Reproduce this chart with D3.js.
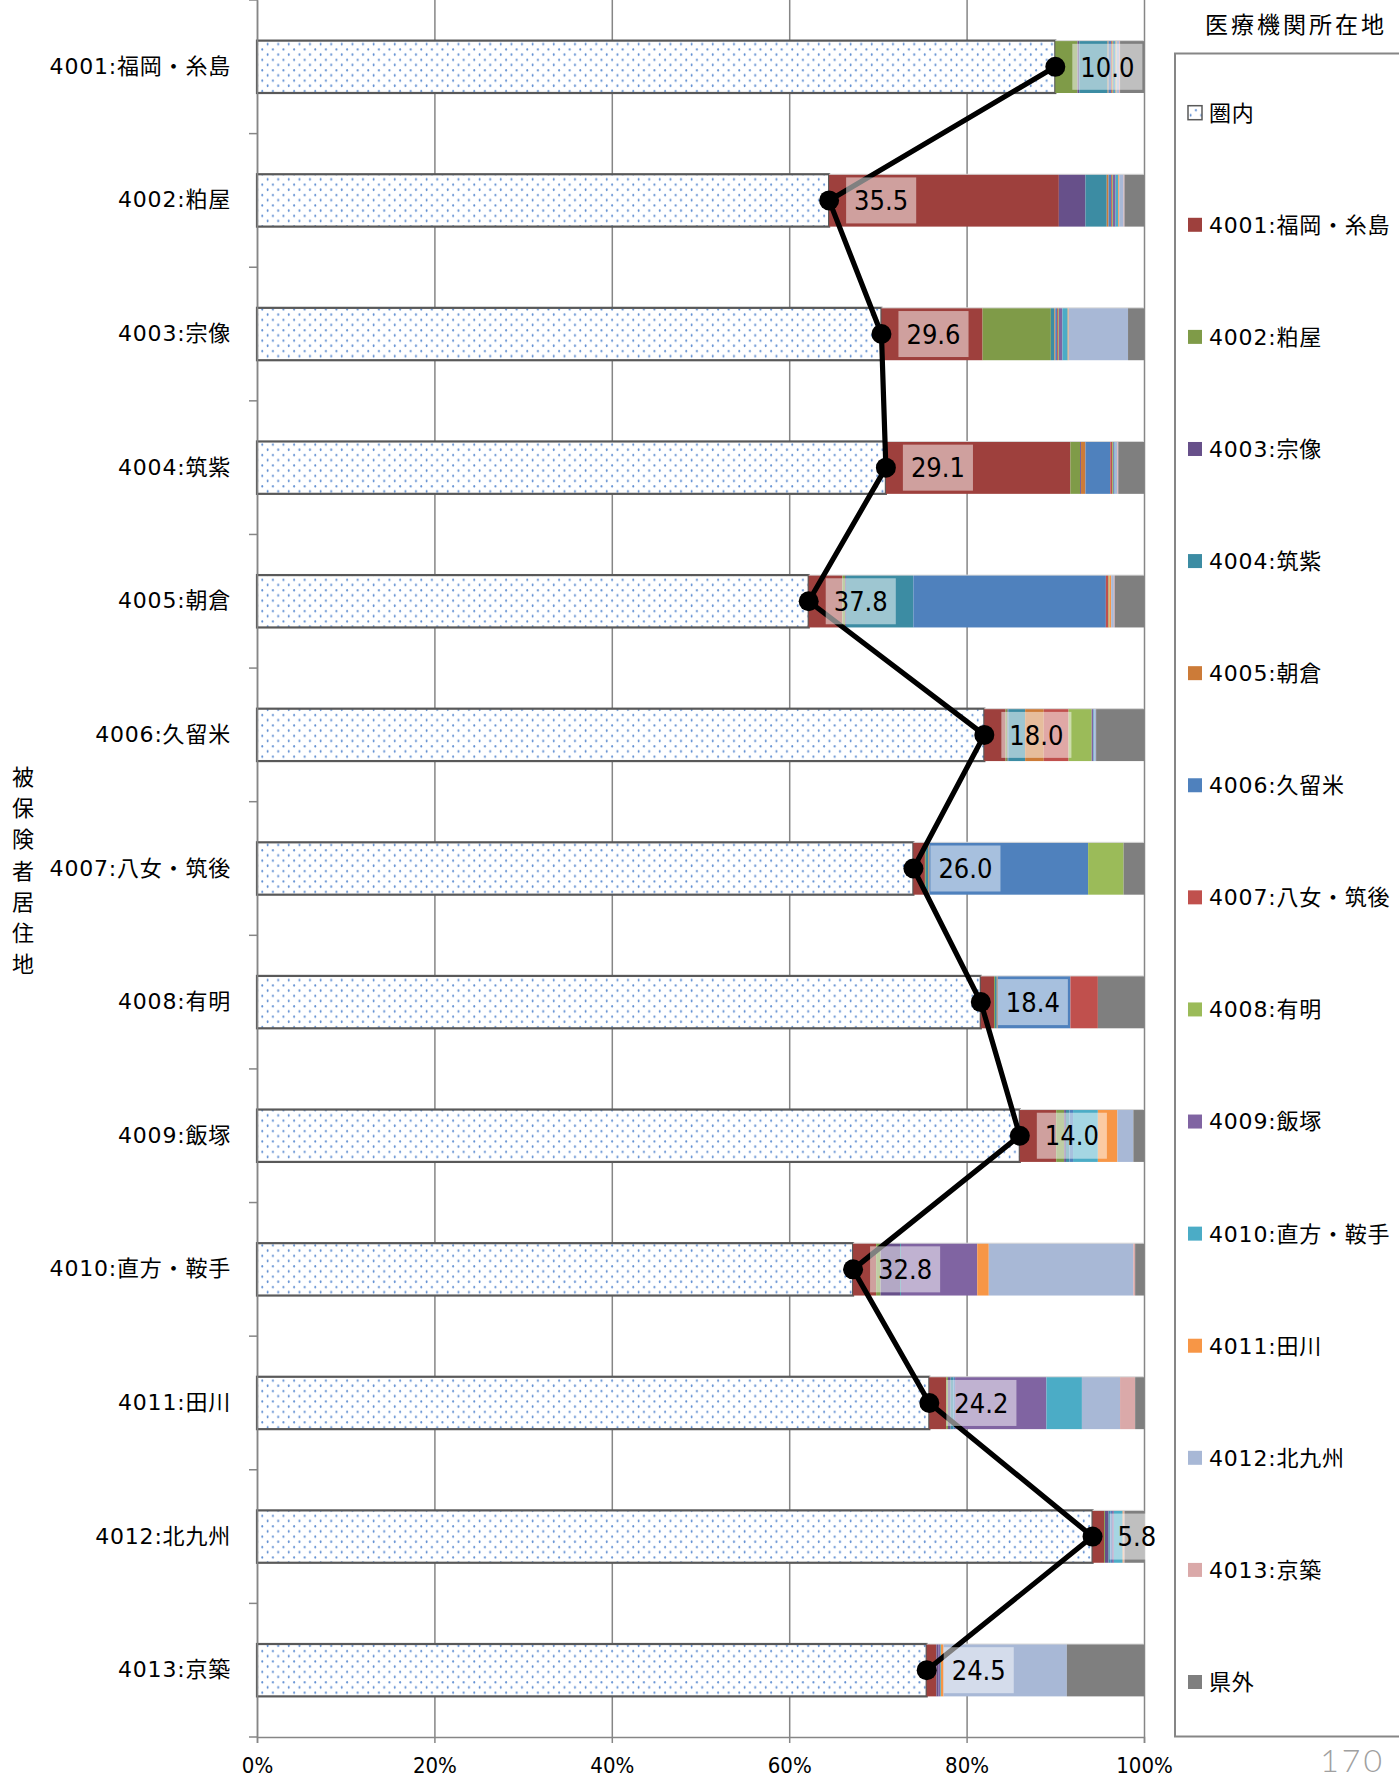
<!DOCTYPE html>
<html><head><meta charset="utf-8">
<script src="https://cdn.jsdelivr.net/npm/d3@7"></script>
<style>
html,body{margin:0;padding:0;background:#fff;}
svg{display:block;}
</style></head><body>
<svg id="chart" width="1399" height="1785"></svg>
<script>
// ---------- data ----------
const categories = ["4001:福岡・糸島","4002:粕屋","4003:宗像","4004:筑紫","4005:朝倉","4006:久留米","4007:八女・筑後","4008:有明","4009:飯塚","4010:直方・鞍手","4011:田川","4012:北九州","4013:京築"];
const seriesNames = ["圏内","4001:福岡・糸島","4002:粕屋","4003:宗像","4004:筑紫","4005:朝倉","4006:久留米","4007:八女・筑後","4008:有明","4009:飯塚","4010:直方・鞍手","4011:田川","4012:北九州","4013:京築","県外"];
const seriesColors = ["#ffffff","#9e403d","#7f9b48","#67508a","#3c8ca3","#cc7b38","#4f81bd","#c0504d","#9bbb59","#8064a2","#4bacc6","#f79646","#a8b8d6","#daa9a9","#7f7f7f"];
const xTicks = [0,20,40,60,80,100];
const yTitle = "被保険者居住地";
const legendTitle = "医療機関所在地";
const pageNo = "170";

const inArea = [90.0,64.5,70.4,70.9,62.2,82.0,74.0,81.6,86.0,67.2,75.8,94.2,75.5];
const s4001  = [0,25.9,11.4,20.8,3.8,2.4,1.3,1.5,4.1,2.6,1.9,1.3,1.1];
const s4002  = [2.5,0,7.7,1.1,0.3,0.2,0.1,0.1,0.9,0.5,0.2,0.1,0];
const s4003  = [0.2,3.0,0,0.1,0.1,0.1,0,0,0.2,2.2,0.3,0.4,0.2];
const s4004  = [3.2,2.4,0.4,0,7.6,1.9,0.3,0.2,0.4,0.1,0.3,0.2,0];
const s4005  = [0.1,0.2,0.1,0.5,0,2.1,0.1,0.1,0,0,0,0,0];
const s4006  = [0.3,0.3,0.2,2.8,21.7,0,17.9,8.2,0.4,0,0.2,0.2,0];
const s4007  = [0.1,0.1,0.1,0.2,0.3,2.8,0,3.1,0,0,0,0,0];
const s4008  = [0.1,0.1,0.1,0.1,0.1,2.6,4.0,0,0,0,0,0,0];
const s4009  = [0.1,0.3,0.4,0.1,0,0.2,0,0,0,8.6,10.3,0.2,0.2];
const s4010  = [0.2,0.3,0.6,0.1,0,0.1,0,0,2.8,0,4.0,1.0,0.1];
const s4011  = [0.1,0.1,0.1,0,0.2,0,0,0,2.2,1.3,0,0.1,0.3];
const s4012  = [0.3,0.5,6.7,0.3,0.3,0.2,0,0,1.8,16.3,4.3,0,13.9];
const s4013  = [0.1,0.1,0,0.1,0.1,0,0,0,0,0.2,1.7,0.1,0];
const outside= [2.7,2.2,1.8,2.9,3.3,5.4,2.3,5.2,1.2,1.0,1.0,2.2,8.7];

const seriesValues = [inArea,s4001,s4002,s4003,s4004,s4005,s4006,s4007,s4008,s4009,s4010,s4011,s4012,s4013,outside];

// ---------- build table ----------
const table = categories.map((c,i)=>{
  const row = {cat:c};
  seriesNames.forEach((s,j)=>{ row[s]=seriesValues[j][i]; });
  return row;
});

const svg = d3.select("#chart");
const x = d3.scaleLinear().domain([0,100]).range([257,1144]);
const y = d3.scaleBand().domain(categories).range([0,1737]).paddingInner(0.608).paddingOuter(0.304);
const color = d3.scaleOrdinal().domain(seriesNames).range(seriesColors);

const defs = svg.append("defs");
const pat = defs.append("pattern").attr("id","dots").attr("patternUnits","userSpaceOnUse")
  .attr("width",10.6).attr("height",10.4);
pat.append("rect").attr("width",10.6).attr("height",10.4).attr("fill","#fff");
pat.append("ellipse").attr("cx",2.6).attr("cy",2.6).attr("rx",0.9).attr("ry",1.3).attr("fill","#5b8bd0");
pat.append("ellipse").attr("cx",7.9).attr("cy",7.8).attr("rx",0.9).attr("ry",1.3).attr("fill","#5b8bd0");

// gridlines
const plotBottom = y.range()[1];
svg.append("g").attr("transform",`translate(0,${plotBottom})`)
  .call(d3.axisBottom(x).tickValues(xTicks).tickSizeInner(-plotBottom).tickSizeOuter(0).tickFormat(""))
  .call(g=>{g.select(".domain").remove(); g.selectAll("line").attr("stroke","#868686").attr("stroke-width",1.5);});

// bars
const stack = d3.stack().keys(seriesNames);
const stacked = stack(table);
const layers = svg.append("g").selectAll("g").data(stacked).join("g")
  .attr("fill",d=> d.key==="圏内" ? "url(#dots)" : color(d.key));
layers.selectAll("rect").data(d=>d.map(v=>({v,key:d.key}))).join("rect")
  .attr("x",d=>x(d.v[0]))
  .attr("y",d=>y(d.v.data.cat))
  .attr("width",d=>Math.max(0,x(d.v[1])-x(d.v[0])))
  .attr("height",y.bandwidth())
  .attr("stroke",d=>d.key==="圏内" ? "#595959" : "none")
  .attr("stroke-width",d=>d.key==="圏内" ? 2.2 : 0);

// light outline of whole bar top/bottom
svg.append("g").selectAll("line").data(categories).join("line")
  .attr("x1",d=>x(inArea[categories.indexOf(d)])).attr("x2",x(100))
  .attr("y1",d=>y(d)).attr("y2",d=>y(d))
  .attr("stroke","#d9d9d9").attr("stroke-width",1);

// axes
const xAxis = svg.append("g").attr("transform",`translate(0,${plotBottom})`)
  .call(d3.axisBottom(x).tickValues(xTicks).tickSize(6).tickPadding(14).tickFormat(d=>d+"%"));
xAxis.select(".domain").attr("stroke","#868686").attr("stroke-width",1.5);
xAxis.selectAll("line").attr("stroke","#868686").attr("stroke-width",1.5);
xAxis.selectAll("text").attr("font-family","'DejaVu Sans Condensed','DejaVu Sans',sans-serif")
  .attr("font-stretch","condensed").attr("font-size",22).attr("fill","#000");

const yAxis = svg.append("g").attr("transform",`translate(${x(0)},0)`)
  .call(d3.axisLeft(y).tickSize(0).tickPadding(26));
yAxis.select(".domain").attr("stroke","#868686").attr("stroke-width",1.5);
yAxis.selectAll("text").attr("font-family","'DejaVu Sans','Noto Sans CJK JP',sans-serif")
  .attr("font-size",22).attr("letter-spacing",0.8).attr("fill","#000");
// tick marks at category boundaries
const bounds = categories.map(c=>y(c)-y.step()*y.paddingInner()/2).concat([plotBottom]);
svg.append("g").selectAll("line").data(bounds).join("line")
  .attr("x1",x(0)-8).attr("x2",x(0)).attr("y1",d=>d).attr("y2",d=>d)
  .attr("stroke","#868686").attr("stroke-width",1.5);

// y title (vertical stacked chars)
const yt = svg.append("text").attr("font-family","'Noto Sans CJK JP',sans-serif").attr("font-size",22)
  .attr("text-anchor","middle").attr("fill","#000");
yTitle.split("").forEach((ch,i)=>{
  yt.append("tspan").attr("x",23).attr("y",785+i*31.2).text(ch);
});

// line
const pts = categories.map((c,i)=>({cat:c,v:inArea[i]}));
const line = d3.line().x(d=>x(d.v)).y(d=>y(d.cat)+y.bandwidth()/2);
svg.append("path").datum(pts).attr("d",line).attr("fill","none").attr("stroke","#000").attr("stroke-width",5.2).attr("stroke-linejoin","round");
svg.append("g").selectAll("circle").data(pts).join("circle")
  .attr("cx",d=>x(d.v)).attr("cy",d=>y(d.cat)+y.bandwidth()/2).attr("r",10).attr("fill","#000");

// data labels
const lbl = svg.append("g").selectAll("g").data(pts).join("g")
  .attr("transform",d=>`translate(${x(d.v)+17},${y(d.cat)+y.bandwidth()/2})`);
lbl.each(function(d){
  const g = d3.select(this);
  const rect = g.append("rect").attr("fill","#fff").attr("fill-opacity",0.5);
  const t = g.append("text").attr("x",8).attr("dy","0.36em")
    .attr("font-family","'DejaVu Sans Condensed','DejaVu Sans',sans-serif").attr("font-stretch","condensed")
    .attr("font-size",27).attr("fill","#000").text((100-d.v).toFixed(1));
  const w = t.node().getComputedTextLength();
  rect.attr("x",0).attr("y",-23).attr("width",w+16).attr("height",46);
});

// legend
svg.append("rect").attr("x",1175).attr("y",53.5).attr("width",260).attr("height",1683)
  .attr("fill","#fff").attr("stroke","#868686").attr("stroke-width",2);
svg.append("text").attr("x",1205).attr("y",25).attr("dy","0.36em")
  .attr("font-family","'Noto Sans CJK JP',sans-serif").attr("font-size",23).attr("letter-spacing",3).attr("fill","#000")
  .text(legendTitle);
const ly = d3.scalePoint().domain(seriesNames).range([112.7,1682]);
const leg = svg.append("g").selectAll("g").data(seriesNames).join("g")
  .attr("transform",d=>`translate(1188,${ly(d)})`);
leg.append("rect").attr("x",0).attr("y",-7).attr("width",14).attr("height",14)
  .attr("fill",d=>d==="圏内" ? "url(#dots)" : color(d))
  .attr("stroke",d=>d==="圏内" ? "#595959" : "none").attr("stroke-width",1.5);
leg.append("text").attr("x",21).attr("dy","0.36em")
  .attr("font-family","'DejaVu Sans','Noto Sans CJK JP',sans-serif").attr("font-size",22).attr("letter-spacing",0.8).attr("fill","#000")
  .text(d=>d);

// page number
svg.append("text").attr("x",1385).attr("y",1760).attr("dy","0.36em").attr("text-anchor","end")
  .attr("font-family","Lato,sans-serif").attr("font-weight",300).attr("font-size",32).attr("letter-spacing",3)
  .attr("fill","#a0a0a0").text(pageNo);
</script>
</body></html>
